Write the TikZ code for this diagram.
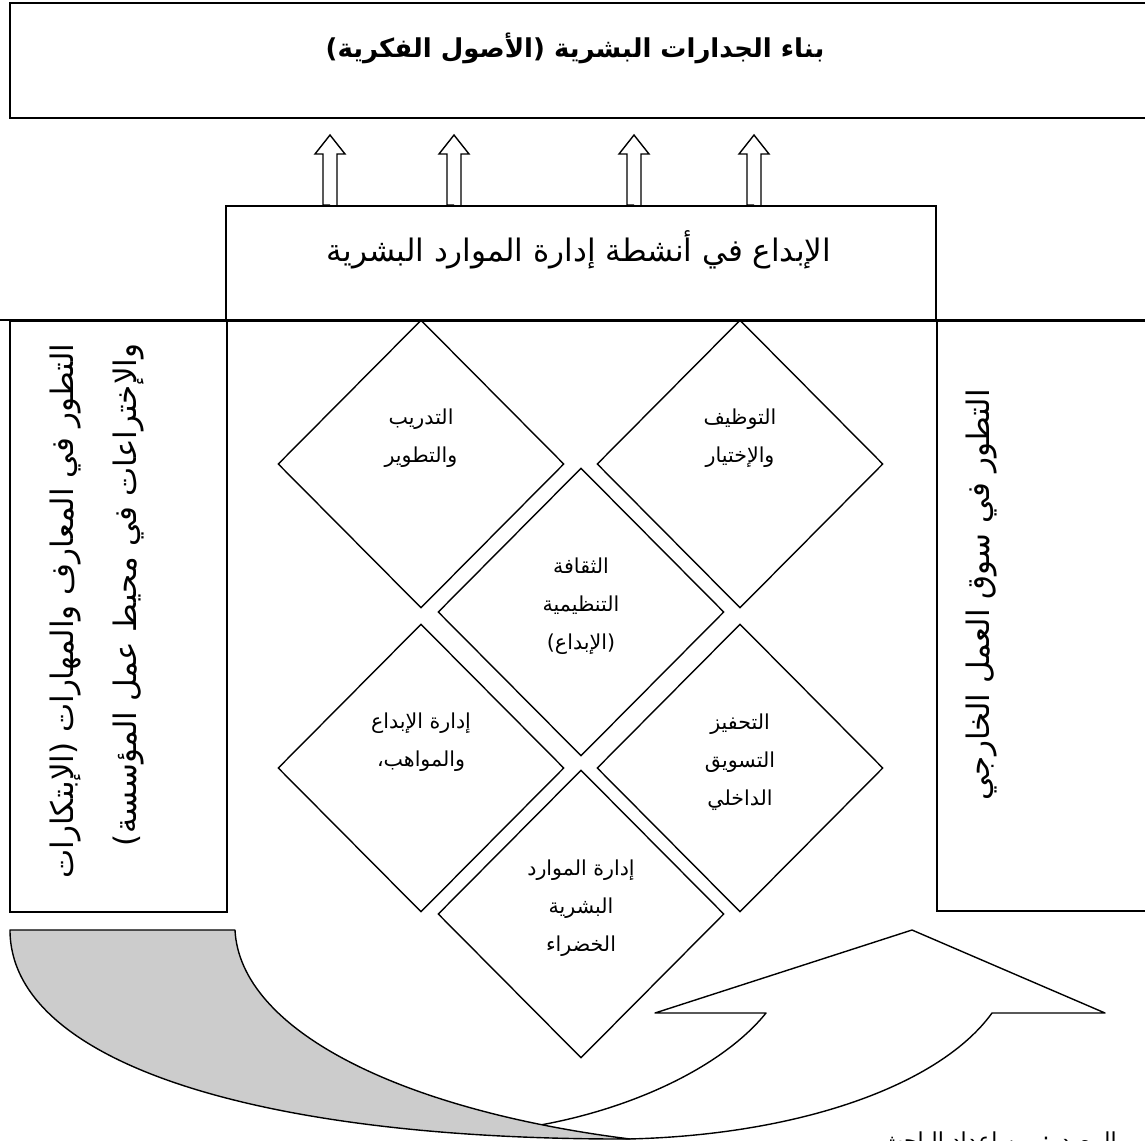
\documentclass[tikz,border=0pt]{standalone}
\usepackage{fontspec}
\usepackage{tikz}
\usetikzlibrary{shapes.geometric}
\TeXXeTstate=1
\newfontfamily\arabicfont[Script=Arabic]{DejaVu Sans}
\definecolor{bandgray}{RGB}{204,204,204}

\begin{document}
\begin{tikzpicture}[x=0.5pt,y=-0.5pt,
	frame/.style={draw,line width=1pt,inner sep=0pt,anchor=north west},
	rhomb/.style={draw,diamond,line width=0.7pt,inner sep=0pt,minimum width=143pt,minimum height=144pt},
	rhombtext/.style={font=\arabicfont\fontsize{10.3}{19}\selectfont,align=center,inner sep=0pt},
	big/.style={font=\arabicfont\fontsize{15.5}{31.5}\selectfont,inner sep=0pt},
	band/.style={line width=0.7pt,line join=round}]
	\useasboundingbox (0,0) rectangle (1145,1140);
	\clip (0,0) rectangle (1145,1140);
	
	% top box and activities box
	\node[frame,minimum width=580pt,minimum height=57.5pt] (wall) at (9,2) {};
	\node[font=\arabicfont\bfseries\fontsize{13}{20}\selectfont] (walltext) at (575,48) {\beginR بناء الجدارات البشرية (الأصول الفكرية)\endR};
	
	\node[frame,minimum width=355pt,minimum height=57.5pt] (inno) at (225,205) {};
	\node[big] (innotext) at (579,250) {\beginR الإبداع في أنشطة إدارة الموارد البشرية\endR};
	
	\foreach \x in {330,454,634,754}
	\draw[line width=0.7pt] (\x,0 |- inno.north) -- ++(-7,0) -- ++(0,-51) -- ++(-8,0) -- ++(15,-19) -- ++(15,19) -- ++(-8,0) -- ++(0,51);
	
	% side boxes
	\draw[line width=1pt] (0,320) -- (1145,320);
	\node[frame,minimum width=108.5pt,minimum height=295.5pt] (know) at (9,320) {};
	\node[frame,minimum width=115pt,minimum height=295pt] (market) at (936,320) {};
	\node[big,rotate=90,align=right] (knowtext) at (97,611) {\beginR التطور في المعارف والمهارات  (الإبتكارات\endR\\\beginR والإختراعات في محيط عمل المؤسسة)\endR};
	\node[big,rotate=90] (markettext) at (981,595) {\beginR التطور في سوق العمل الخارجي\endR};
	
	% diamonds
	\node[rhomb] (train) at (421,464) {};
	\node[rhomb] (hire) at (740,464) {};
	\node[rhomb] (culture) at (581,612) {};
	\node[rhomb] (talent) at (421,768) {};
	\node[rhomb] (motiv) at (740,768) {};
	\node[rhomb] (green) at (581,914) {};
	
	\node[rhombtext] (traintext) at ([yshift=13pt]train.center) {\beginR التدريب\endR\\\beginR والتطوير\endR};
	\node[rhombtext] (hiretext) at ([yshift=13pt]hire.center) {\beginR التوظيف\endR\\\beginR والإختيار\endR};
	\node[rhombtext] (culturetext) at ([yshift=3pt]culture.center) {\beginR الثقافة\endR\\\beginR التنظيمية\endR\\\beginR (الإبداع)\endR};
	\node[rhombtext] (talenttext) at ([yshift=13pt]talent.center) {\beginR إدارة الإبداع\endR\\\beginR والمواهب،\endR};
	\node[rhombtext] (motivtext) at ([yshift=3pt]motiv.center) {\beginR التحفيز\endR\\\beginR التسويق\endR\\\beginR الداخلي\endR};
	\node[rhombtext] (greentext) at ([yshift=3pt]green.center) {\beginR إدارة الموارد\endR\\\beginR البشرية\endR\\\beginR الخضراء\endR};
	
	% curved arrow at the bottom
	\coordinate (gA) at (10,930);
	\coordinate (gB) at (235,930);
	\coordinate (gTip) at (630,1139);
	\coordinate (wStart) at (515,1129);
	\coordinate (wL) at (766,1013);
	\coordinate (wLB) at (655,1013);
	\coordinate (wTip) at (912,930);
	\coordinate (wRB) at (1105,1013);
	\coordinate (wR) at (992,1013);
	\coordinate (wEnd) at (628,1139);
	\draw[band,fill=white] (wStart) .. controls (620,1115) and (720,1070) .. (wL) -- (wLB) -- (wTip) -- (wRB) -- (wR) .. controls (940,1085) and (800,1135) .. (wEnd) -- cycle;
	\draw[band,fill=bandgray] (gA) -- (gB) .. controls (240,1030) and (400,1110) .. (gTip) .. controls (250,1140) and (10,1060) .. (gA) -- cycle;
	
	\node[font=\arabicfont\fontsize{11}{13}\selectfont,anchor=north east,inner sep=0pt] (source) at (1117,1131) {\beginR المصدر: من إعداد الباحث\endR};
\end{tikzpicture}
\end{document}
